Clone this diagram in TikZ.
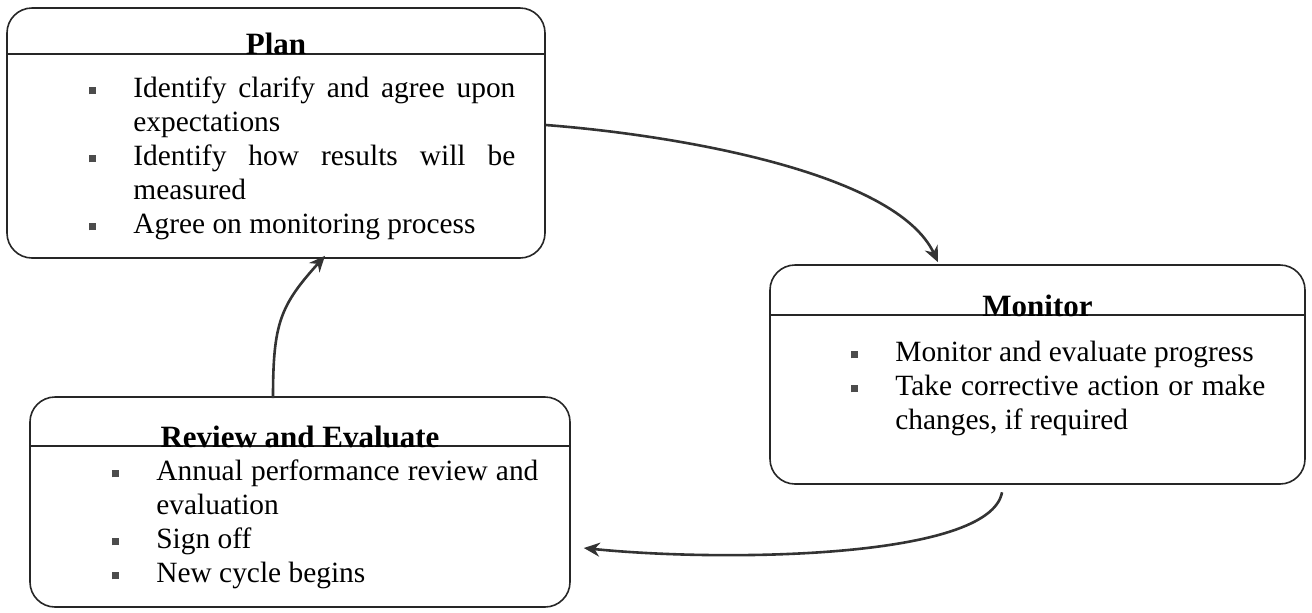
\documentclass[tikz,border=0pt]{standalone}
\usepackage{fontspec}
\setmainfont{Liberation Serif}
\usepackage{enumitem}
\usetikzlibrary{arrows.meta}

\newlist{steplist}{itemize}{1}
\setlist[steplist]{label={\color{black!70}\rule[1.5pt]{3.5pt}{3.5pt}},leftmargin=22pt,labelwidth=3.5pt,labelsep=18.5pt,align=left,nosep}
\newcommand\steptext{\fontsize{14.7}{17}\selectfont\hyphenpenalty=10000 }

\begin{document}
\begin{tikzpicture}[x=0.5pt,y=-0.5pt,
    stepbox/.style={draw=black!85,line width=0.8pt,rounded corners=12.5pt,inner sep=0pt},
    steptitle/.style={anchor=base,inner sep=0pt,font=\fontsize{15.5}{17}\selectfont\bfseries},
    stepbody/.style={anchor=north west,inner sep=0pt,align=justify,font=\steptext},
    headline/.style={draw=black!85,line width=0.8pt},
    flow/.style={-{Stealth[length=8pt,width=7pt]},line width=1.3pt,draw=black!80}]

    \useasboundingbox (0,0) rectangle (1312,612);

    % the three boxes
    \node[stepbox,minimum width=269pt,minimum height=125pt] (plan) at (276,133) {};
    \node[stepbox,minimum width=267.5pt,minimum height=109.5pt] (monitor) at (1037.5,374.5) {};
    \node[stepbox,minimum width=270pt,minimum height=105pt] (review) at (300,502) {};

    % header lines and titles
    \draw[headline] (plan.west |- 0,54) -- (plan.east |- 0,54);
    \node[steptitle] (plantitle) at (276,54) {Plan};

    \draw[headline] (monitor.west |- 0,315) -- (monitor.east |- 0,315);
    \node[steptitle] (monitortitle) at (1037.5,316) {Monitor};

    \draw[headline] (review.west |- 0,446) -- (review.east |- 0,446);
    \node[steptitle] (reviewtitle) at (300,447) {Review and Evaluate};

    % bullet lists
    \node[stepbody,text width=191pt+22pt] (planlist) at (89,63) {%
        \begin{steplist}
            \item Identify clarify and agree upon expectations
            \item Identify how results will be\linebreak measured
            \item Agree on monitoring process
        \end{steplist}};

    \node[stepbody,text width=185pt+22pt] (monitorlist) at (851,327) {%
        \begin{steplist}
            \item Monitor and evaluate progress
            \item Take corrective action or make\linebreak changes, if required
        \end{steplist}};

    \node[stepbody,text width=191pt+22pt] (reviewlist) at (112,446) {%
        \begin{steplist}
            \item Annual performance review and\linebreak evaluation
            \item Sign off
            \item New cycle begins
        \end{steplist}};

    % the cycle
    \draw[flow] ([yshift=4pt]plan.east) .. controls +(130,10) and +(-42,-90) .. ([xshift=-49.75pt,yshift=1pt]monitor.north);
    \draw[flow] ([xshift=-17.75pt,yshift=-3.75pt]monitor.south) .. controls +(-12,67) and +(137,14) .. ([xshift=6.5pt,yshift=-23pt]review.east);
    \draw[flow] ([xshift=-13.5pt,yshift=-1pt]review.north) .. controls +(0,-75) and +(-45,50) .. ([xshift=24.5pt,yshift=1.5pt]plan.south);
\end{tikzpicture}
\end{document}
